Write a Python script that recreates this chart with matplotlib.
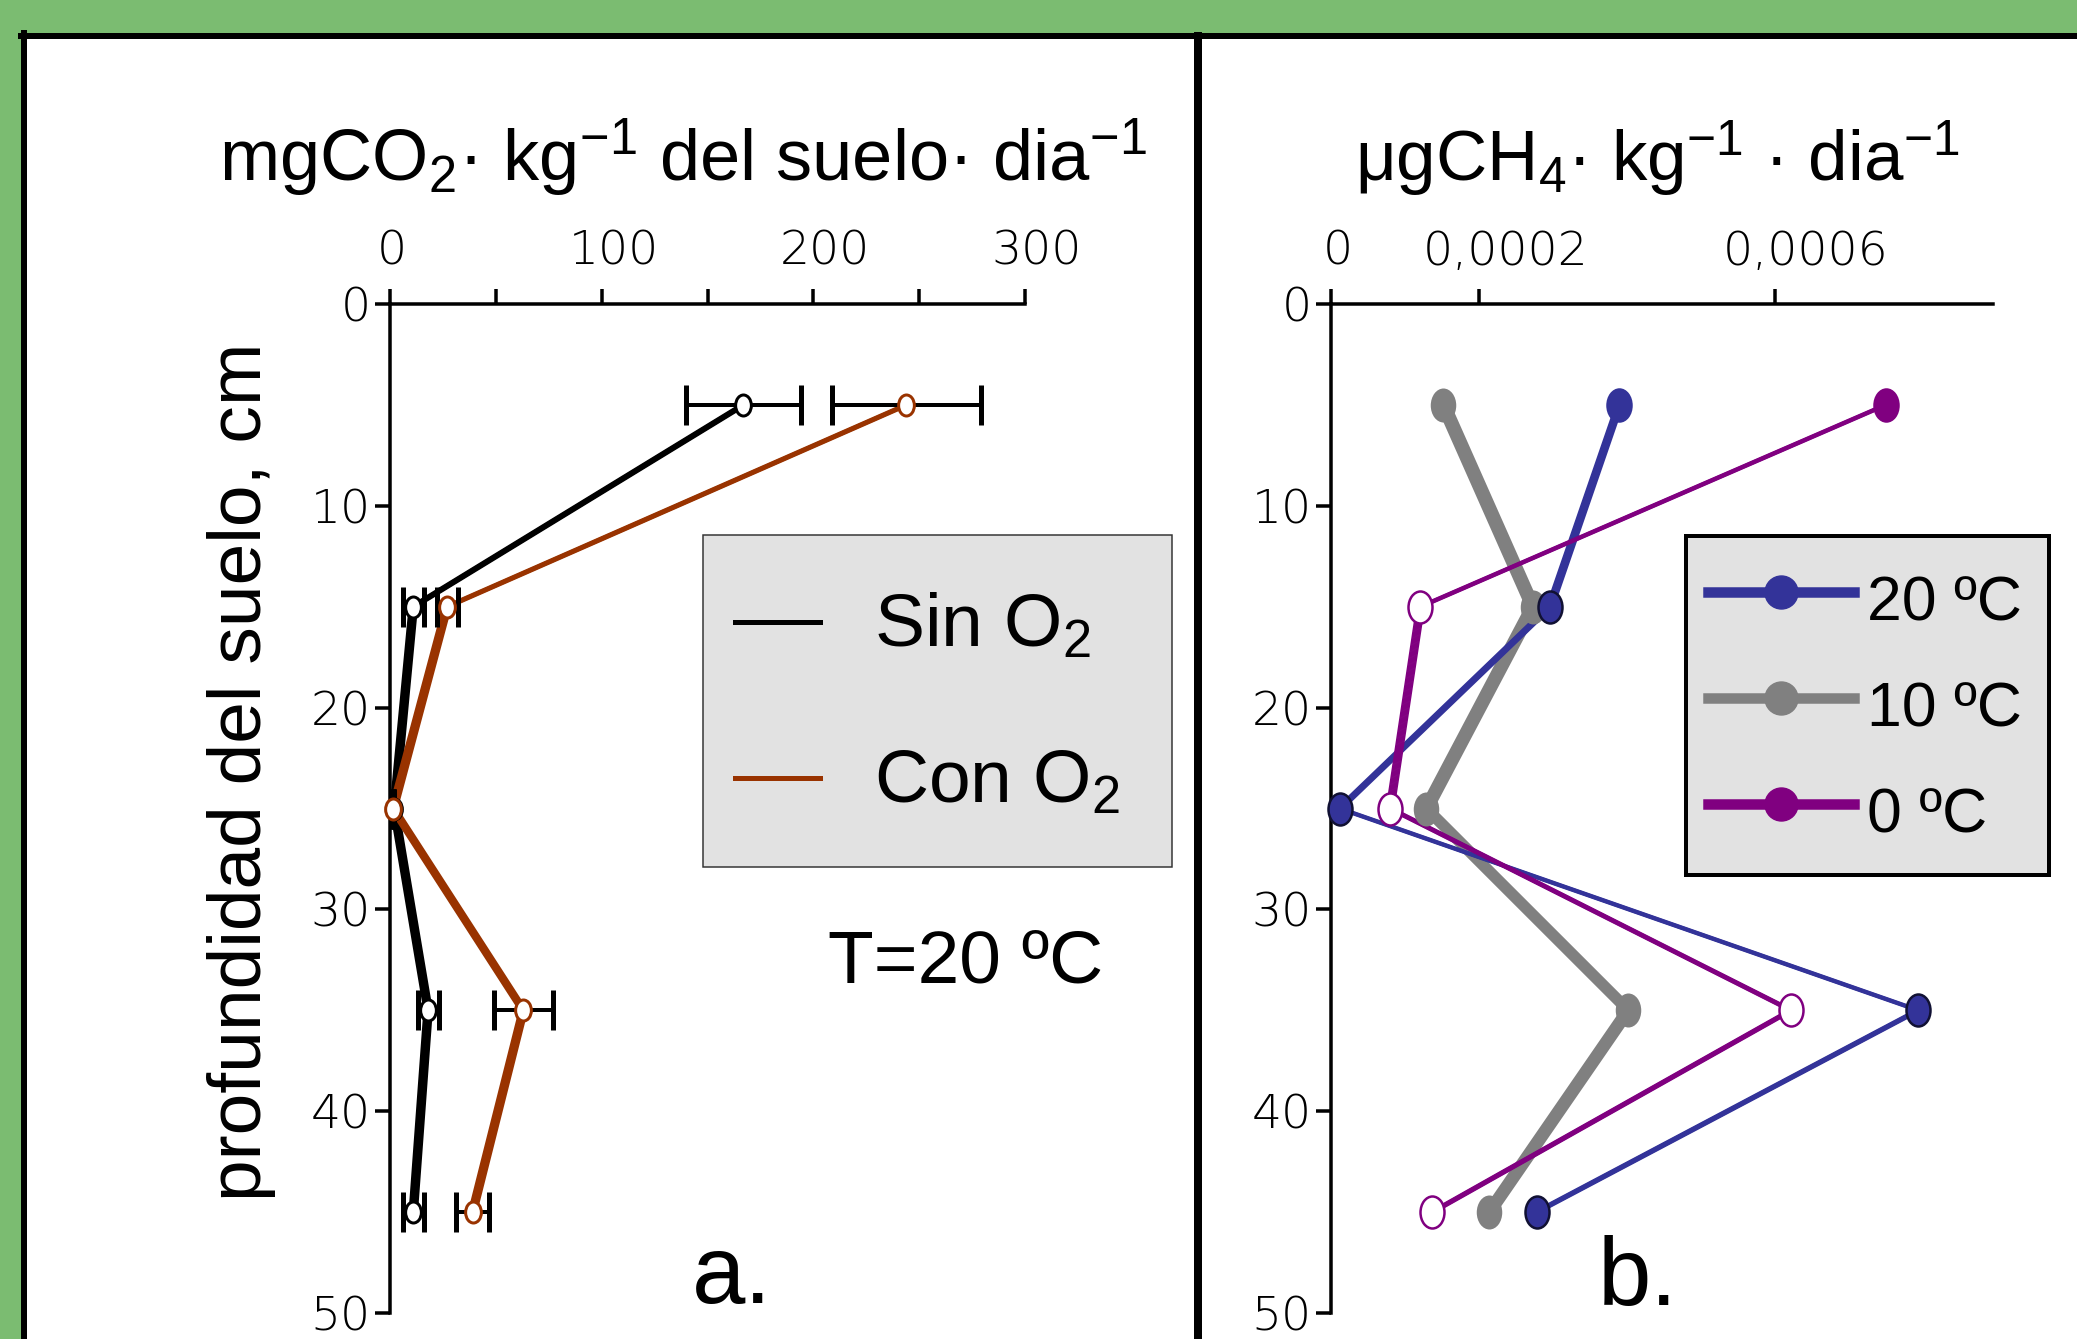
import numpy as np
import matplotlib
matplotlib.use("Agg")
import matplotlib.pyplot as plt
from matplotlib.path import Path
from matplotlib.lines import Line2D
from matplotlib.patches import Rectangle
from matplotlib.legend_handler import HandlerLine2D
import matplotlib.patheffects as pe
from matplotlib.transforms import ScaledTranslation

# ---------------- data ----------------
depth = [5, 15, 25, 35, 45]

co2_sin = [167, 11, 2, 18, 11]
co2_sin_err = [27, 5, 0, 5, 5]
co2_con = [244, 27, 1.5, 63, 39]
co2_con_err = [35, 5, 0, 14, 8]

ch4_20 = [0.00039, 0.000296, 0.000012, 0.000794, 0.000278]
ch4_10 = [0.000152, 0.000273, 0.000129, 0.000402, 0.000214]
ch4_0 = [0.00075, 0.000121, 0.00008, 0.000622, 0.000137]

xa_ticks = [0, 100, 200, 300]
xa_minor = [50, 150, 250]
xa_labels = ["0", "100", "200", "300"]
xb_ticks = [0, 0.0002, 0.0006]
xb_labels = ["0", "0,0002", "0,0006"]
y_ticks = [0, 10, 20, 30, 40, 50]

title_a = r"mgCO$_2$· kg$^{-1}$ del suelo· dia$^{-1}$"
title_b = r"μgCH$_4$· kg$^{-1}$ · dia$^{-1}$"
ylabel = "profundidad del suelo, cm"
legend_a = [r"Sin O$_2$", r"Con O$_2$"]
legend_b = ["20 ºC", "10 ºC", "0 ºC"]

# ---------------- style ----------------
W, H, DPI = 2077, 1339, 100
PX = 72.0 / DPI
GREEN = "#7bbc71"
BLACK = "#000000"
BROWN = "#993300"
BLUE = "#333399"
GRAY = "#808080"
PURPLE = "#800080"
LEGBG = "#e2e2e2"

plt.rcParams["font.family"] = ["Liberation Sans", "DejaVu Sans"]
plt.rcParams["mathtext.fontset"] = "custom"
plt.rcParams["mathtext.rm"] = "Liberation Sans"
plt.rcParams["mathtext.it"] = "Liberation Sans:italic"
plt.rcParams["mathtext.bf"] = "Liberation Sans:bold"

circ = Path.unit_circle()
ELL = Path(circ.vertices * np.array([0.75, 1.0]), circ.codes)


def rect_pen(wx, wy, color):
    L = max(wx - wy, 0.0)
    n = int(np.ceil(L / (0.6 * wy))) + 1
    offs = np.linspace(-L / 2, L / 2, n)
    return [pe.Stroke(offset=(o * PX, 0), linewidth=wy * PX, foreground=color,
                      capstyle="round", joinstyle="round") for o in offs]


class ShiftedLine(HandlerLine2D):
    """Legend line handle moved down by dy points."""

    def __init__(self, dy, **kw):
        super().__init__(**kw)
        self._dy = dy

    def create_artists(self, legend, orig_handle, xdescent, ydescent, width, height,
                       fontsize, trans):
        arts = super().create_artists(legend, orig_handle, xdescent, ydescent, width,
                                      height, fontsize, trans)
        for a in arts:
            a.set_ydata(np.asarray(a.get_ydata(), dtype=float) - self._dy)
        return arts


fig = plt.figure(figsize=(W / DPI, H / DPI), dpi=DPI, facecolor=GREEN)

# white panel with black frame
fig.add_artist(Rectangle((21 / W, 0), 1, 1 - 33 / H, transform=fig.transFigure,
                         facecolor="white", edgecolor="none", zorder=-5))
fig.add_artist(Line2D([21 / W, 1], [1 - 36 / H] * 2, transform=fig.transFigure,
                      color="black", lw=6 * PX, zorder=-4))
fig.add_artist(Line2D([24 / W] * 2, [0, 1 - 33 / H], transform=fig.transFigure,
                      color="black", lw=6 * PX, zorder=-4))
fig.add_artist(Line2D([1198 / W] * 2, [0, 1 - 36 / H], transform=fig.transFigure,
                      color="black", lw=8 * PX, zorder=-4))

bottom = 1 - 1313 / H
height = (1313 - 304) / H
ax_a = fig.add_axes([390 / W, bottom, (1025 - 390) / W, height])
ax_b = fig.add_axes([1331 / W, bottom, (1993 - 1331) / W, height])


def style_axes(ax):
    ax.patch.set_visible(False)
    for s in ("right", "bottom"):
        ax.spines[s].set_visible(False)
    for s in ("top", "left"):
        ax.spines[s].set_linewidth(3.5 * PX)
    ax.set_ylim(50, 0)
    ax.set_yticks(y_ticks)
    ax.xaxis.tick_top()
    ax.tick_params(which="both", direction="out", length=15 * PX, width=3.5 * PX,
                   top=True, bottom=False, labeltop=True, labelbottom=False,
                   labelsize=34, labelfontfamily="DejaVu Sans")
    ax.tick_params(axis="x", which="both", pad=11)
    ax.tick_params(axis="y", which="both", pad=3)


# ---------------- panel a ----------------
style_axes(ax_a)
ax_a.set_xlim(0, 300)
ax_a.set_xticks(xa_ticks)
ax_a.set_xticks(xa_minor, minor=True)
ax_a.set_xticklabels(xa_labels)

ax_a.plot(co2_sin, depth, color=BLACK, lw=2 * PX, clip_on=False,
          path_effects=rect_pen(9.5, 2.2, BLACK), zorder=2)
ax_a.plot(co2_con, depth, color=BROWN, lw=2 * PX, clip_on=False,
          path_effects=rect_pen(9.5, 2.2, BROWN), zorder=2.1)
ax_a.errorbar(co2_sin, depth, xerr=co2_sin_err, fmt="none", ecolor="black",
              elinewidth=4 * PX, capsize=20 * PX, capthick=5 * PX, zorder=3, clip_on=False)
ax_a.errorbar(co2_con, depth, xerr=co2_con_err, fmt="none", ecolor="black",
              elinewidth=4 * PX, capsize=20 * PX, capthick=5 * PX, zorder=3, clip_on=False)
ax_a.plot(co2_sin, depth, ls="none", marker=ELL, ms=21 * PX, mfc="white", mec=BLACK,
          mew=3 * PX, zorder=4, clip_on=False)
ax_a.plot(co2_con, depth, ls="none", marker=ELL, ms=21 * PX, mfc="white", mec=BROWN,
          mew=3 * PX, zorder=4, clip_on=False)

ax_a.set_title(title_a, fontsize=52, x=0.4614, y=1.1219, pad=0, ha="center", va="baseline")
ax_a.set_ylabel(ylabel, fontsize=54, va="center")
ax_a.yaxis.set_label_coords(242 / W, 1 - 772 / H, transform=fig.transFigure)
ax_a.text(0.6898, 0.32706, "T=20 ºC", transform=ax_a.transAxes, fontsize=54,
          ha="left", va="baseline")
ax_a.text(0.4756, 0.00991, "a.", transform=ax_a.transAxes, fontsize=69,
          ha="left", va="baseline")

ha_a = [Line2D([], [], color=BLACK, lw=5 * PX), Line2D([], [], color=BROWN, lw=5 * PX)]
leg_a = ax_a.legend(ha_a, legend_a, loc="upper left", mode="expand",
                    bbox_to_anchor=(703 / W, 1 - 868 / H, 469 / W, 333 / H),
                    bbox_transform=fig.transFigure,
                    handler_map={h: ShiftedLine(11) for h in ha_a},
                    borderaxespad=0, fontsize=54, borderpad=0.43, handlelength=1.13,
                    handleheight=1.9, handletextpad=0.72, labelspacing=0.6,
                    fancybox=False, framealpha=1, facecolor=LEGBG, edgecolor="#333333")
leg_a.get_frame().set_linewidth(1.5 * PX)

# ---------------- panel b ----------------
style_axes(ax_b)
ax_b.set_xlim(0, 0.000895)
ax_b.set_xticks(xb_ticks)
ax_b.set_xticklabels(xb_labels)

ax_b.plot(ch4_10, depth, color=GRAY, lw=3 * PX, clip_on=False,
          path_effects=rect_pen(15, 3.2, GRAY), zorder=2)
ax_b.plot(ch4_20, depth, color=BLUE, lw=2.2 * PX, clip_on=False,
          path_effects=rect_pen(9, 2.2, BLUE), zorder=2.1)
ax_b.plot(ch4_0, depth, color=PURPLE, lw=1.6 * PX, clip_on=False,
          path_effects=rect_pen(9, 1.6, PURPLE), zorder=2.2)

ax_b.plot(ch4_10, depth, ls="none", marker=ELL, ms=34 * PX, mfc=GRAY, mec=GRAY,
          mew=0, zorder=4, clip_on=False)
ax_b.plot(ch4_20[:1], depth[:1], ls="none", marker=ELL, ms=32 * PX, mfc=BLUE, mec=BLUE,
          mew=2.5 * PX, zorder=4.1, clip_on=False)
ax_b.plot(ch4_20[1:], depth[1:], ls="none", marker=ELL, ms=32 * PX, mfc=BLUE, mec="#111133",
          mew=2.5 * PX, zorder=4.1, clip_on=False)
ax_b.plot(ch4_0[:1], depth[:1], ls="none", marker=ELL, ms=32 * PX, mfc=PURPLE, mec=PURPLE,
          mew=2.5 * PX, zorder=4.2, clip_on=False)
ax_b.plot(ch4_0[1:], depth[1:], ls="none", marker=ELL, ms=32 * PX, mfc="white", mec=PURPLE,
          mew=2.5 * PX, zorder=4.2, clip_on=False)

ax_b.set_title(title_b, fontsize=51, x=0.4924, y=1.1219, pad=0, ha="center", va="baseline")
ax_b.text(0.4033, 0.00793, "b.", transform=ax_b.transAxes, fontsize=69,
          ha="left", va="baseline")

ha_b = [Line2D([], [], color=c, lw=10.5 * PX, marker="o", ms=33 * PX, mfc=c, mec=c)
        for c in (BLUE, GRAY, PURPLE)]
leg_b = ax_b.legend(ha_b, legend_b, loc="upper left", mode="expand",
                    bbox_to_anchor=(1686 / W, 1 - 864 / H, 363 / W, 328 / H),
                    bbox_transform=fig.transFigure,
                    handler_map={h: ShiftedLine(2) for h in ha_b},
                    borderaxespad=0, fontsize=45, borderpad=0.35, handlelength=2.33,
                    handleheight=1.68, handletextpad=0.22, labelspacing=0.36,
                    fancybox=False, framealpha=1, facecolor=LEGBG, edgecolor="black")
leg_b.get_frame().set_linewidth(4 * PX)

# tick label styling and small horizontal offsets seen in the original
for ax, offs in ((ax_a, [2, 12, 12, 12]), (ax_b, [7, 27, 31])):
    for lbl, dx in zip(ax.get_xticklabels(), offs):
        lbl.set_fontweight("light")
        lbl.set_transform(lbl.get_transform() + ScaledTranslation(dx / DPI, 0, fig.dpi_scale_trans))
    for lbl in ax.get_yticklabels():
        lbl.set_fontweight("light")

fig.savefig("out.png", dpi=DPI, facecolor=GREEN)
